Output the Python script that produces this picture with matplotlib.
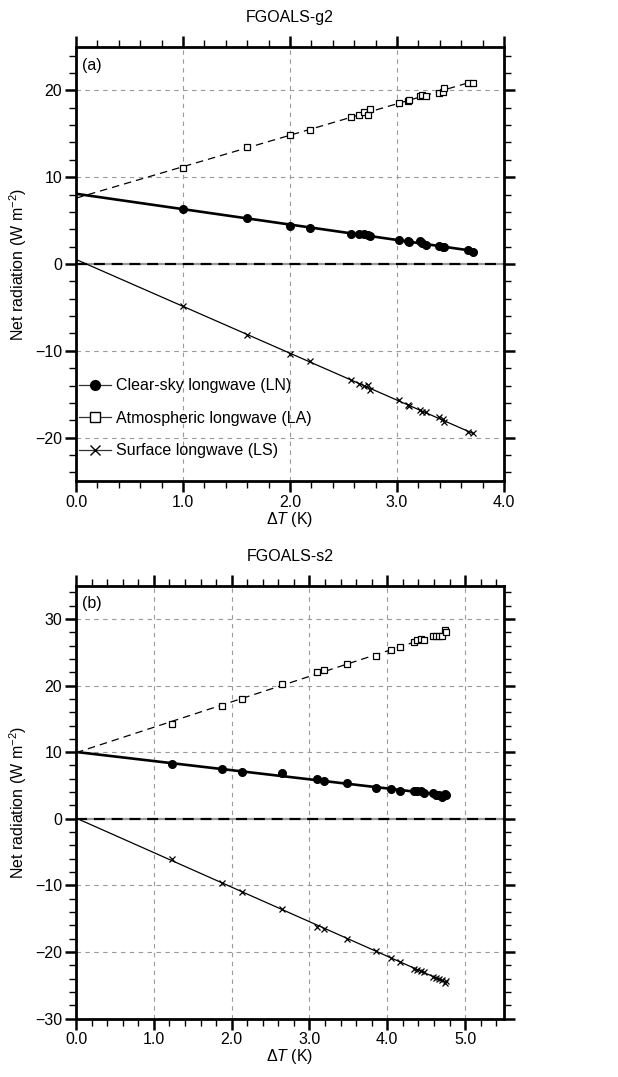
import numpy as np
import matplotlib
matplotlib.use("Agg")
import matplotlib.pyplot as plt
from matplotlib.lines import Line2D
from matplotlib.ticker import MultipleLocator, FormatStrFormatter

FS = 11.5
plt.rcParams['font.family'] = ['Liberation Sans', 'DejaVu Sans']
plt.rcParams['font.size'] = FS
plt.rcParams['mathtext.fontset'] = 'custom'
plt.rcParams['mathtext.rm'] = 'Liberation Sans'
plt.rcParams['mathtext.it'] = 'Liberation Sans:italic'

# (a) FGOALS-g2 : warming (K) and net radiation (W m-2)
dT_g2 = [1.00, 1.60, 2.00, 2.19, 2.57, 2.64, 2.69, 2.73, 2.75, 3.02,
         3.10, 3.11, 3.21, 3.23, 3.27, 3.39, 3.43, 3.44, 3.66, 3.71]
LN_g2 = [6.3, 5.3, 4.4, 4.2, 3.5, 3.4, 3.4, 3.3, 3.2, 2.8,
         2.6, 2.5, 2.6, 2.4, 2.2, 2.1, 1.9, 2.0, 1.6, 1.4]
LA_g2 = [11.1, 13.5, 14.8, 15.4, 16.9, 17.2, 17.5, 17.2, 17.8, 18.5,
         18.8, 18.9, 19.4, 19.5, 19.3, 19.7, 19.8, 20.3, 20.8, 20.9]
LS_g2 = [-4.8, -8.2, -10.4, -11.2, -13.4, -13.8, -14.1, -13.9, -14.5, -15.7,
         -16.2, -16.4, -16.8, -17.1, -17.1, -17.6, -17.9, -18.2, -19.3, -19.5]

# (b) FGOALS-s2
dT_s2 = [1.23, 1.87, 2.13, 2.65, 3.10, 3.19, 3.48, 3.86, 4.05, 4.16,
         4.34, 4.38, 4.43, 4.47, 4.59, 4.62, 4.66, 4.70, 4.74, 4.75]
LN_s2 = [8.2, 7.4, 7.0, 6.8, 5.9, 5.7, 5.3, 4.6, 4.5, 4.2,
         4.1, 4.1, 4.2, 3.8, 3.8, 3.6, 3.5, 3.3, 3.7, 3.6]
LA_s2 = [14.3, 17.0, 18.0, 20.3, 22.1, 22.3, 23.3, 24.5, 25.4, 25.8,
         26.6, 26.8, 27.0, 26.8, 27.5, 27.5, 27.5, 27.4, 28.3, 28.0]
LS_s2 = [-6.1, -9.6, -11.0, -13.6, -16.2, -16.6, -18.0, -19.8, -20.9, -21.5,
         -22.5, -22.7, -22.8, -23.0, -23.7, -23.9, -24.0, -24.2, -24.6, -24.4]

labels = ['Clear-sky longwave (LN)', 'Atmospheric longwave (LA)', 'Surface longwave (LS)']


def fit_line(ax, x, y, **kw):
    c = np.polyfit(x, y, 1)
    xx = np.array([0.0, max(x)])
    ax.plot(xx, np.polyval(c, xx), color='k', zorder=3, **kw)


def draw_panel(ax, x, ln, la, ls, xmax, ylim, title, tag, legend=False):
    ax.set_xlim(0, xmax)
    ax.set_ylim(*ylim)
    ax.xaxis.set_major_locator(MultipleLocator(1.0))
    ax.xaxis.set_minor_locator(MultipleLocator(0.2))
    ax.xaxis.set_major_formatter(FormatStrFormatter('%.1f'))
    ax.yaxis.set_major_locator(MultipleLocator(10))
    ax.yaxis.set_minor_locator(MultipleLocator(2))
    ax.yaxis.set_major_formatter(lambda v, p: ('%d' % v).replace('-', '\u2212'))

    ax.grid(True, which='major', color='0.6', ls=(0, (4, 4)), lw=0.8, zorder=0)
    ax.axhline(0, color='k', ls=(0, (5, 3)), lw=1.6, gapcolor='0.6', zorder=2)

    fit_line(ax, x, la, lw=0.9, ls=(0, (6, 4)))
    fit_line(ax, x, ln, lw=1.9)
    fit_line(ax, x, ls, lw=0.9)
    ax.plot(x, la, ls='none', marker='s', ms=4.8, mfc='white', mec='k', mew=0.9, zorder=4)
    ax.plot(x, ln, ls='none', marker='o', ms=5.5, mfc='k', mec='k', zorder=4)
    ax.plot(x, ls, ls='none', marker='x', ms=5, mec='k', mew=0.9, zorder=4)

    for s in ax.spines.values():
        s.set_linewidth(2)
    ax.tick_params(which='both', direction='out', top=True, right=True,
                   labeltop=False, labelright=False, labelsize=FS)
    ax.tick_params(which='major', length=8, width=1.8, pad=2)
    ax.tick_params(which='minor', length=5, width=1)

    ax.set_xlabel(r'$\Delta\mathit{T}$ (K)', fontsize=FS)
    ax.xaxis.set_label_coords(0.5, -0.066)
    ax.set_ylabel('Net radiation (W m$^{-2}$)', fontsize=FS)
    ax.yaxis.set_label_coords(-0.11, 0.5)
    ax.text(0.5, 1.068, title, transform=ax.transAxes, ha='center', va='center', fontsize=FS)
    ax.text(0.014, 0.958, tag, transform=ax.transAxes, ha='left', va='center', fontsize=FS)

    if legend:
        handles = [
            Line2D([], [], color='0.2', lw=0.9, marker='o', ms=7, mfc='k', mec='k'),
            Line2D([], [], color='0.2', lw=0.9, marker='s', ms=6.5, mfc='white', mec='k'),
            Line2D([], [], color='0.2', lw=0.9, marker='x', ms=6.5, mec='k'),
        ]
        ax.legend(handles, labels, loc='lower left', bbox_to_anchor=(0.0, 0.045),
                  frameon=False, borderpad=0, borderaxespad=0.2, handlelength=2.0,
                  handletextpad=0.3, labelspacing=1.1, fontsize=FS)


fig = plt.figure(figsize=(6.18, 10.77), dpi=100)
ax1 = fig.add_axes([0.123, 0.5534, 0.6926, 0.403])
ax2 = fig.add_axes([0.123, 0.0543, 0.6926, 0.4019])

draw_panel(ax1, dT_g2, LN_g2, LA_g2, LS_g2, 4.0, (-25, 25), 'FGOALS-g2', '(a)', legend=True)
draw_panel(ax2, dT_s2, LN_s2, LA_s2, LS_s2, 5.5, (-30, 35), 'FGOALS-s2', '(b)')

fig.savefig('out.png', dpi=100)
